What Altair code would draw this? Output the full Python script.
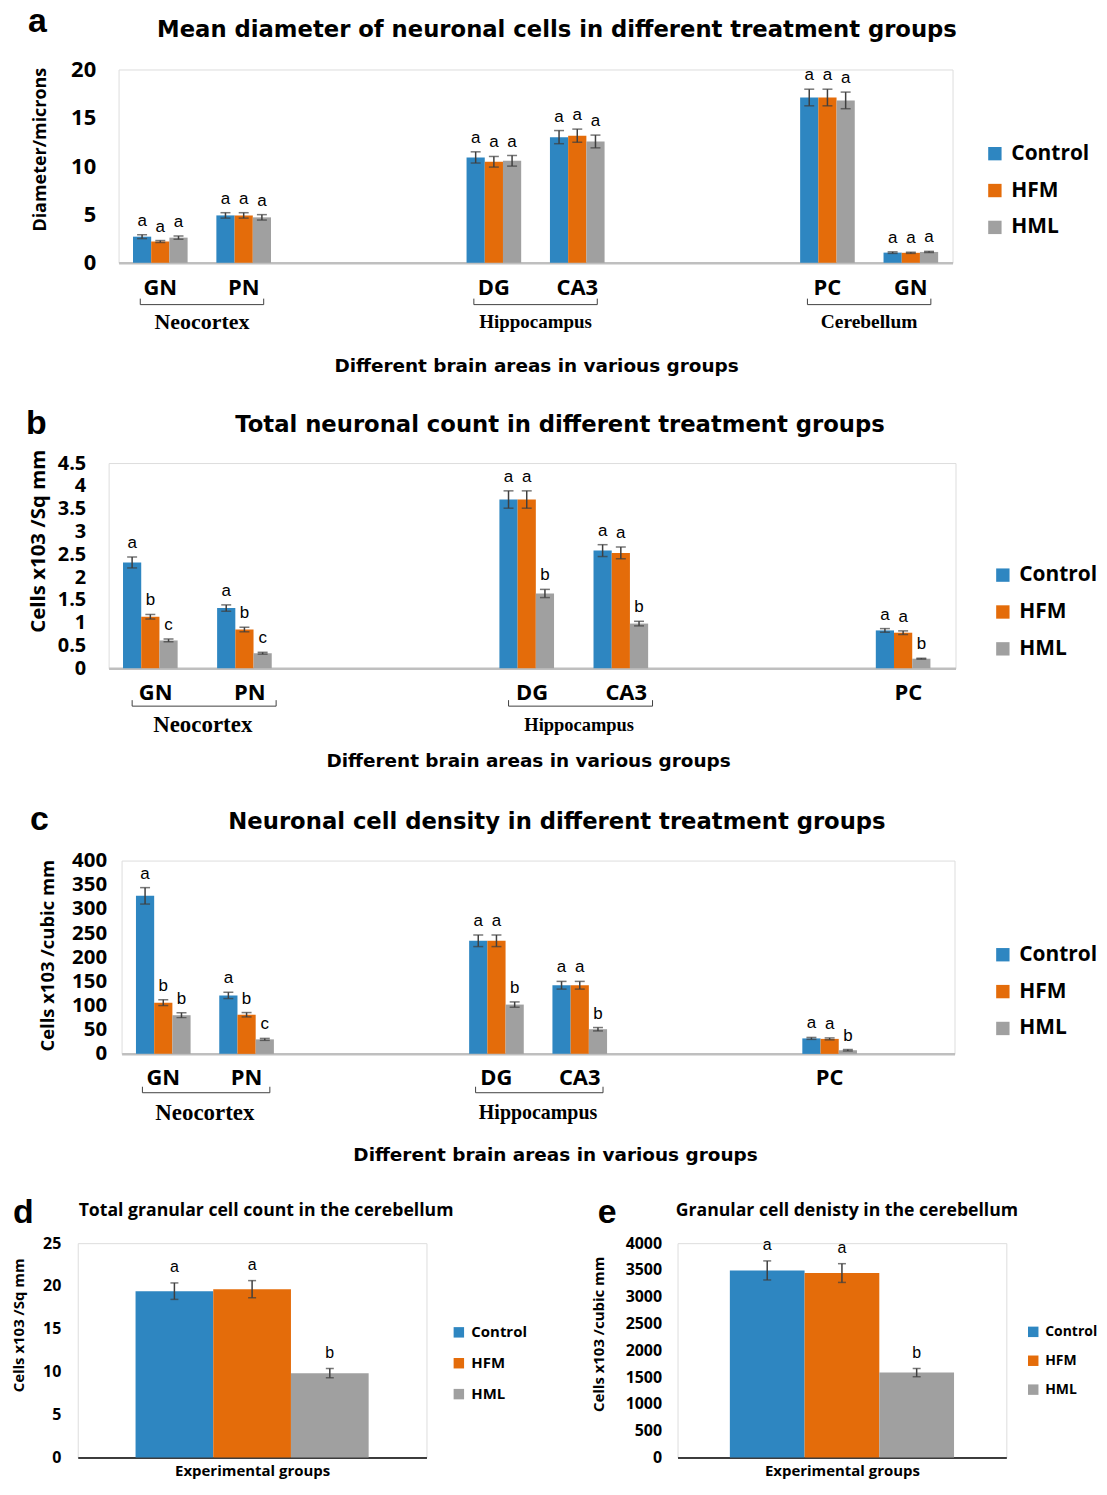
import altair as alt
import pandas as pd

# ---------------- data ----------------
groups = ["Control", "HFM", "HML"]
group_colors = ["#2E86C1", "#E46C0A", "#A0A0A0"]

# Panel a: mean diameter of neuronal cells (microns)
a_regions = ["GN", "PN", "DG", "CA3", "PC", "GN"]
a_areas = ["Neocortex", "Neocortex", "Hippocampus", "Hippocampus", "Cerebellum", "Cerebellum"]
a_control = [2.7, 4.9, 10.9, 13.0, 17.1, 1.05]
a_hfm = [2.2, 4.9, 10.45, 13.15, 17.1, 1.03]
a_hml = [2.6, 4.7, 10.55, 12.55, 16.8, 1.12]
a_control_err = [0.2, 0.28, 0.58, 0.68, 0.86, 0.08]
a_hfm_err = [0.1, 0.28, 0.55, 0.68, 0.86, 0.06]
a_hml_err = [0.17, 0.28, 0.55, 0.66, 0.86, 0.06]
a_control_sig = ["a", "a", "a", "a", "a", "a"]
a_hfm_sig = ["a", "a", "a", "a", "a", "a"]
a_hml_sig = ["a", "a", "a", "a", "a", "a"]
a_ticks = [0, 5, 10, 15, 20]
a_area_labels = ["Neocortex", "Hippocampus", "Cerebellum"]

# Panel b: total neuronal count (cells x10^3 / sq mm)
b_regions = ["GN", "PN", "DG", "CA3", "PC"]
b_areas = ["Neocortex", "Neocortex", "Hippocampus", "Hippocampus", "Cerebellum"]
b_control = [2.32, 1.32, 3.70, 2.58, 0.83]
b_hfm = [1.13, 0.85, 3.70, 2.53, 0.78]
b_hml = [0.61, 0.33, 1.64, 0.98, 0.21]
b_control_err = [0.12, 0.07, 0.19, 0.13, 0.04]
b_hfm_err = [0.05, 0.05, 0.19, 0.13, 0.04]
b_hml_err = [0.03, 0.02, 0.09, 0.05, 0.01]
b_control_sig = ["a", "a", "a", "a", "a"]
b_hfm_sig = ["b", "b", "a", "a", "a"]
b_hml_sig = ["c", "c", "b", "b", "b"]
b_ticks = [0, 0.5, 1, 1.5, 2, 2.5, 3, 3.5, 4, 4.5]
b_area_labels = ["Neocortex", "Hippocampus"]

# Panel c: neuronal cell density (cells x10^3 / cubic mm)
c_regions = ["GN", "PN", "DG", "CA3", "PC"]
c_areas = ["Neocortex", "Neocortex", "Hippocampus", "Hippocampus", "Cerebellum"]
c_control = [327, 121, 234, 142, 32]
c_hfm = [106, 81, 234, 142, 31]
c_hml = [80, 30, 102, 51, 7.5]
c_control_err = [17, 6.5, 12, 8, 2]
c_hfm_err = [6, 4.5, 12, 8, 2]
c_hml_err = [5, 2, 5.5, 3.5, 1.5]
c_control_sig = ["a", "a", "a", "a", "a"]
c_hfm_sig = ["b", "b", "a", "a", "a"]
c_hml_sig = ["b", "c", "b", "b", "b"]
c_ticks = [0, 50, 100, 150, 200, 250, 300, 350, 400]
c_area_labels = ["Neocortex", "Hippocampus"]

# Panel d: total granular cell count in the cerebellum
d_values = [19.4, 19.63, 9.82]
d_err = [0.96, 1.0, 0.54]
d_sig = ["a", "a", "b"]
d_ticks = [0, 5, 10, 15, 20, 25]

# Panel e: granular cell density in the cerebellum
e_values = [3491, 3442, 1583]
e_err = [178, 175, 77]
e_sig = ["a", "a", "b"]
e_ticks = [0, 500, 1000, 1500, 2000, 2500, 3000, 3500, 4000]

# ---------------- styles ----------------
CAL = "Open Sans"
VER = "DejaVu Sans"
SER = "Liberation Serif"
ARI = "Liberation Sans"
ERR = "#3F3F3F"
FMT = ".10~g"


def long_df(regions, areas, vals, errs, sigs):
    rows = []
    for gi, g in enumerate(groups):
        for i, r in enumerate(regions):
            v, e = vals[gi][i], errs[gi][i]
            rows.append({"key": f"{r}|{areas[i]}", "group": g, "value": v,
                         "lo": v - e, "hi": v + e, "sig": sigs[gi][i]})
    return pd.DataFrame(rows)


def slot_domain(regions, areas, trailing):
    dom, prev, g = [], None, 0
    for r, a in zip(regions, areas):
        if prev is not None and a != prev:
            dom += [f"gap{g}", f"gap{g + 1}"]
            g += 2
        dom.append(f"{r}|{a}")
        prev = a
    dom += [f"gap{g + k}" for k in range(trailing)]
    return dom


def area_df(regions, areas, labels, sizes):
    rows = []
    for lab, fs in zip(labels, sizes):
        keys = [f"{r}|{a}" for r, a in zip(regions, areas) if a == lab]
        rows.append({"label": lab, "key": keys[0], "key2": keys[-1], "fs": fs})
    return pd.DataFrame(rows)


def txt(text, x, y, font, size, weight="bold", align="center", baseline="middle"):
    return alt.Chart(pd.DataFrame({"t": [text]})).mark_text(
        font=font, fontSize=size, fontWeight=weight, align=align,
        baseline=baseline, color="black"
    ).encode(x=alt.value(x), y=alt.value(y), text="t:N")


def spacer():
    # an empty 1px cell that only serves to offset a row horizontally
    return alt.Chart(pd.DataFrame({"t": [""]})).mark_text().encode(
        x=alt.value(0), y=alt.value(0), text="t:N"
    ).properties(width=1, height=1, view=alt.ViewBackground(strokeOpacity=0))


def grouped_panel(p):
    W, H = p["W"], p["H"]
    df = long_df(p["regions"], p["areas"], p["vals"], p["errs"], p["sigs"])
    dom = slot_domain(p["regions"], p["areas"], p["trailing"])
    xs = alt.Scale(domain=dom, paddingInner=0, paddingOuter=0)
    ys = alt.Scale(domain=[0, p["ticks"][-1]], nice=False, zero=True)
    xos = alt.Scale(domain=groups, paddingInner=0, paddingOuter=p["xo_pad"])
    xt, yt = p["xtitle"], p["ytitle"]
    label_expr = "indexof(datum.value, '|') < 0 ? '' : split(datum.value, '|')[0]"
    xaxis = alt.Axis(labelExpr=label_expr, labelAngle=0, labelFont=CAL, labelFontSize=22,
                     labelFontWeight="bold", labelColor="black", labelPadding=p["xlp"],
                     ticks=False, tickSize=0, domainColor="#BFBFBF", domainWidth=2.5,
                     titleFont=VER, titleFontSize=18.5, titleFontWeight="bold",
                     titleColor="black", titlePadding=p["xtp"], titleX=p["xtx"])
    yaxis = alt.Axis(values=p["ticks"], tickCount=len(p["ticks"]) + 2, format=FMT,
                     labelFont=CAL, labelFontSize=p["ylfs"],
                     labelFontWeight="bold", labelColor="black", labelPadding=p["ylp"],
                     labelOverlap=False, ticks=False, tickSize=0, domain=False, grid=False,
                     titleFont=CAL, titleFontSize=p["ytfs"], titleFontWeight="bold",
                     titleColor="black", titleX=p["ytx"], titleY=p["yty"],
                     titleBaseline="middle", titleAngle=-90)
    legend = alt.Legend(orient="none", legendX=p["lgx"], legendY=p["lgy"],
                        symbolType="square", symbolSize=180, symbolStrokeWidth=0,
                        labelFont=CAL, labelFontSize=21, labelFontWeight="bold",
                        labelColor="black", rowPadding=15, labelOffset=6, padding=0)
    XO = alt.XOffset("group:N", scale=xos)

    def X(**kw):
        return alt.X("key:N", scale=xs, title=xt, axis=xaxis, **kw)

    def Y(f):
        return alt.Y(f, scale=ys, title=yt, axis=yaxis)

    bars = alt.Chart(df).mark_bar().encode(
        x=X(), xOffset=XO, y=Y("value:Q"),
        color=alt.Color("group:N", scale=alt.Scale(domain=groups, range=group_colors),
                        title=None, legend=legend))
    rule = alt.Chart(df).mark_rule(color=ERR, strokeWidth=1.5).encode(
        x=X(), xOffset=XO, y=Y("lo:Q"), y2=alt.Y2("hi:Q", title=yt))
    cap_hi = alt.Chart(df).mark_tick(orient="horizontal", size=10, thickness=1.5, color=ERR).encode(
        x=X(), xOffset=XO, y=Y("hi:Q"))
    cap_lo = alt.Chart(df).mark_tick(orient="horizontal", size=10, thickness=1.5, color=ERR).encode(
        x=X(), xOffset=XO, y=Y("lo:Q"))
    sig = alt.Chart(df).mark_text(font=ARI, fontSize=17, baseline="bottom", dy=-5, color="black").encode(
        x=X(), xOffset=XO, y=Y("hi:Q"), text="sig:N")

    adf = area_df(p["regions"], p["areas"], p["area_labels"], p["area_sizes"])
    adf_r = adf.assign(key=adf["key2"])
    by = H + p["by"]
    br = alt.Chart(adf).mark_rule(color="#404040", strokeWidth=1).encode(
        x=X(bandPosition=p["bl"]), x2=alt.X2("key2:N", bandPosition=p["brp"], title=xt),
        y=alt.value(by))
    br_l = alt.Chart(adf).mark_rule(color="#404040", strokeWidth=1).encode(
        x=X(bandPosition=p["bl"]), y=alt.value(by - 6), y2=alt.value(by))
    br_r = alt.Chart(adf_r).mark_rule(color="#404040", strokeWidth=1).encode(
        x=X(bandPosition=p["brp"]), y=alt.value(by - 6), y2=alt.value(by))
    alab = alt.Chart(adf).mark_text(font=SER, fontWeight="bold", baseline="middle", color="black").encode(
        x=X(bandPosition=1), y=alt.value(H + p["gy"]), text="label:N",
        size=alt.Size("fs:Q", scale=None, legend=None))

    letter = txt(p["letter"], p["lx"], p["ly"], ARI, 34, align="left", baseline="alphabetic")
    title = txt(p["title"], p["tx"], p["ty"], VER, 22.8)
    return alt.layer(bars, rule, cap_hi, cap_lo, sig, br, br_l, br_r, alab, letter, title).properties(
        width=W, height=H)


def simple_panel(p):
    W, H = p["W"], p["H"]
    df = pd.DataFrame({"group": groups, "value": p["vals"],
                       "lo": [v - e for v, e in zip(p["vals"], p["errs"])],
                       "hi": [v + e for v, e in zip(p["vals"], p["errs"])],
                       "sig": p["sigs"]})
    xs = alt.Scale(domain=groups, paddingInner=0, paddingOuter=p["po"])
    ys = alt.Scale(domain=[0, p["ticks"][-1]], nice=False, zero=True)
    xt, yt = "Experimental groups", p["ytitle"]
    xaxis = alt.Axis(labels=False, ticks=False, tickSize=0, domainColor="black", domainWidth=1.5,
                     titleFont=CAL, titleFontSize=15, titleFontWeight="bold", titleColor="black",
                     titlePadding=p["xtp"])
    yaxis = alt.Axis(values=p["ticks"], tickCount=len(p["ticks"]) + 2, format=FMT,
                     labelFont=CAL, labelFontSize=16,
                     labelFontWeight="bold", labelColor="black", labelPadding=p["ylp"],
                     labelOverlap=False, ticks=False, tickSize=0, domain=False, grid=False,
                     titleFont=CAL, titleFontSize=15, titleFontWeight="bold", titleColor="black",
                     titleX=p["ytx"], titleY=p["yty"], titleBaseline="middle", titleAngle=-90)
    legend = alt.Legend(orient="none", legendX=W + p["lgdx"], legendY=p["lgy"],
                        symbolType="square", symbolSize=110, symbolStrokeWidth=0,
                        labelFont=CAL, labelFontSize=p["lfs"], labelFontWeight="bold",
                        labelColor="black", rowPadding=15, labelOffset=5, padding=0)

    def X():
        return alt.X("group:N", scale=xs, title=xt, axis=xaxis)

    def Y(f):
        return alt.Y(f, scale=ys, title=yt, axis=yaxis)

    bars = alt.Chart(df).mark_bar().encode(
        x=X(), y=Y("value:Q"),
        color=alt.Color("group:N", scale=alt.Scale(domain=groups, range=group_colors),
                        title=None, legend=legend))
    rule = alt.Chart(df).mark_rule(color=ERR, strokeWidth=1.5).encode(
        x=X(), y=Y("lo:Q"), y2=alt.Y2("hi:Q", title=yt))
    cap_hi = alt.Chart(df).mark_tick(orient="horizontal", size=8, thickness=1.5, color=ERR).encode(
        x=X(), y=Y("hi:Q"))
    cap_lo = alt.Chart(df).mark_tick(orient="horizontal", size=8, thickness=1.5, color=ERR).encode(
        x=X(), y=Y("lo:Q"))
    sig = alt.Chart(df).mark_text(font=ARI, fontSize=16, baseline="bottom", dy=-8, color="black").encode(
        x=X(), y=Y("hi:Q"), text="sig:N")
    letter = txt(p["letter"], p["lx"], p["ly"], ARI, 34, align="left", baseline="alphabetic")
    title = txt(p["title"], p["tx"], p["ty"], CAL, 17.7)
    return alt.layer(bars, rule, cap_hi, cap_lo, sig, letter, title).properties(width=W, height=H)


XT = "Different brain areas in various groups"

pa = grouped_panel(dict(
    W=837, H=194, regions=a_regions, areas=a_areas,
    vals=[a_control, a_hfm, a_hml], errs=[a_control_err, a_hfm_err, a_hml_err],
    sigs=[a_control_sig, a_hfm_sig, a_hml_sig], ticks=a_ticks, trailing=0, xo_pad=0.79,
    xtitle=XT, ytitle="Diameter/microns", ytfs=18, ylfs=22, xlp=15, xtp=58, xtx=419, ylp=23,
    ytx=-78, yty=80, lgx=869, lgy=74, area_labels=a_area_labels, area_sizes=[22, 19, 19.5],
    by=42, gy=59, bl=0.26, brp=0.74, letter="a", lx=-91, ly=-38,
    title="Mean diameter of neuronal cells in different treatment groups", tx=440, ty=-40))

pb = grouped_panel(dict(
    W=850, H=206, regions=b_regions, areas=b_areas,
    vals=[b_control, b_hfm, b_hml], errs=[b_control_err, b_hfm_err, b_hml_err],
    sigs=[b_control_sig, b_hfm_sig, b_hml_sig], ticks=b_ticks, trailing=0, xo_pad=0.75,
    xtitle=XT, ytitle="Cells x103 /Sq mm", ytfs=20.5, ylfs=20, xlp=14, xtp=49, xtx=421, ylp=23,
    ytx=-70, yty=78, lgx=887, lgy=102, area_labels=b_area_labels, area_sizes=[23, 18.5],
    by=38, gy=57, bl=0.25, brp=0.78, letter="b", lx=-83, ly=-29,
    title="Total neuronal count in different treatment groups", tx=453, ty=-38))

pc = grouped_panel(dict(
    W=836, H=194, regions=c_regions, areas=c_areas,
    vals=[c_control, c_hfm, c_hml], errs=[c_control_err, c_hfm_err, c_hml_err],
    sigs=[c_control_sig, c_hfm_sig, c_hml_sig], ticks=c_ticks, trailing=1, xo_pad=0.82,
    xtitle=XT, ytitle="Cells x103 /cubic mm", ytfs=18.5, ylfs=20.5, xlp=14, xtp=57, xtx=435, ylp=15,
    ytx=-74, yty=95, lgx=874, lgy=84, area_labels=c_area_labels, area_sizes=[23, 20],
    by=39, gy=59, bl=0.25, brp=0.78, letter="c", lx=-92, ly=-31,
    title="Neuronal cell density in different treatment groups", tx=437, ty=-39))

pd_ = simple_panel(dict(
    W=350, H=215, vals=d_values, errs=d_err, sigs=d_sig, ticks=d_ticks, po=0.744,
    ytitle="Cells x103 /Sq mm", ylp=17, ytx=-59, yty=82, xtp=6, lgy=82, lfs=15, lgdx=25,
    letter="d", lx=-65, ly=-20, title="Total granular cell count in the cerebellum", tx=189, ty=-32))

pe = simple_panel(dict(
    W=330, H=215, vals=e_values, errs=e_err, sigs=e_sig, ticks=e_ticks, po=0.7,
    ytitle="Cells x103 /cubic mm", ylp=16, ytx=-79, yty=91, xtp=6, lgy=82, lfs=14, lgdx=20,
    letter="e", lx=-80, ly=-20, title="Granular cell denisty in the cerebellum", tx=170, ty=-32))


def indep(c):
    return c.resolve_scale(color="independent").resolve_legend(color="independent")


row_a = indep(alt.hconcat(spacer(), pa, spacing=18))
row_b = indep(alt.hconcat(spacer(), pb, spacing=16))
row_c = indep(alt.hconcat(spacer(), pc, spacing=20))
row_de = indep(alt.hconcat(spacer(), indep(alt.hconcat(pd_, pe, spacing=63)), spacing=2))

chart = indep(alt.vconcat(row_a, row_b, row_c, row_de, spacing=31)).properties(
    padding={"left": 0, "top": -7, "right": 0, "bottom": 0}
).configure_view(stroke="black", strokeWidth=1.5).configure(background="white")

chart.save("out.html", embed_options={"renderer": "svg", "actions": False})
